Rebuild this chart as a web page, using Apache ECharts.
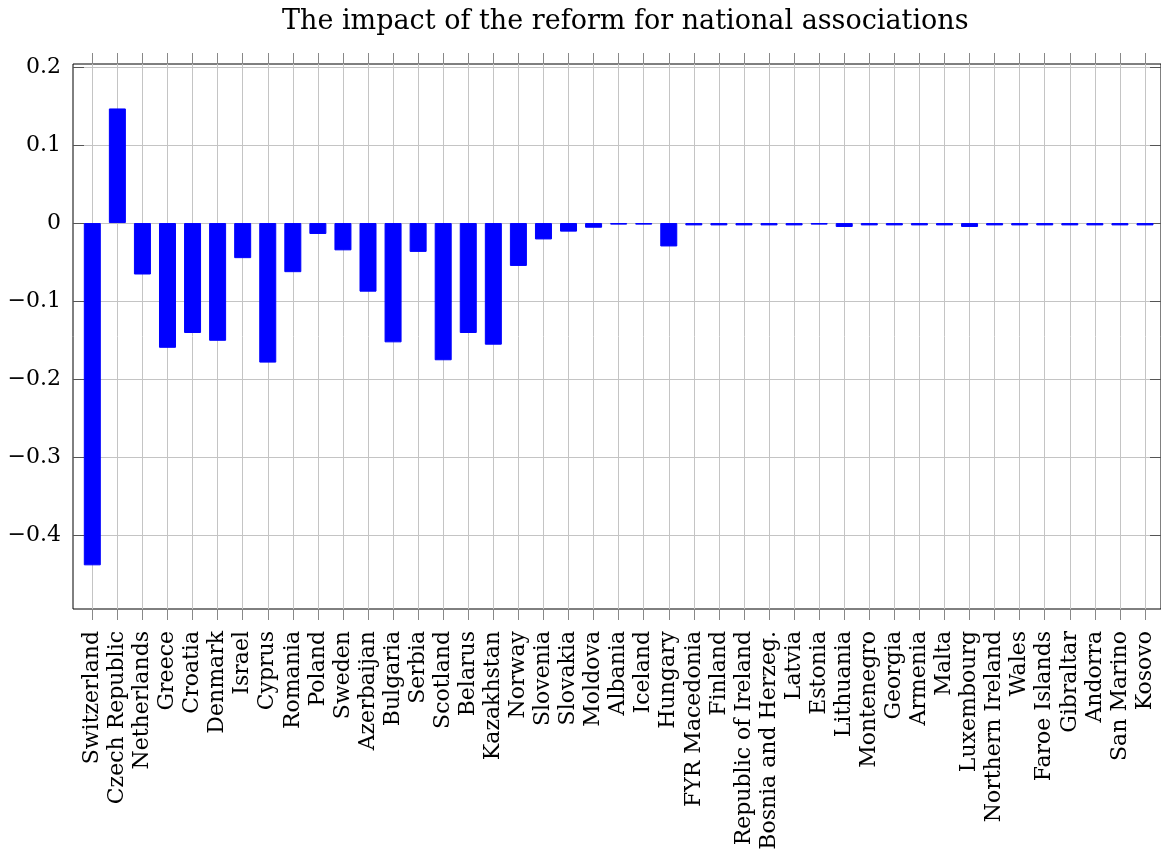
<!DOCTYPE html>
<html>
<head>
<meta charset="utf-8">
<script src="https://cdn.jsdelivr.net/npm/echarts@6/dist/echarts.min.js"></script>
<style>
  html, body { margin: 0; padding: 0; background: #fff; }
  #chart { width: 1161px; height: 862px; }
</style>
</head>
<body>
<div id="chart"></div>
<script>
var countries = ['Switzerland', 'Czech Republic', 'Netherlands', 'Greece', 'Croatia', 'Denmark', 'Israel',
  'Cyprus', 'Romania', 'Poland', 'Sweden', 'Azerbaijan', 'Bulgaria', 'Serbia', 'Scotland', 'Belarus',
  'Kazakhstan', 'Norway', 'Slovenia', 'Slovakia', 'Moldova', 'Albania', 'Iceland', 'Hungary',
  'FYR Macedonia', 'Finland', 'Republic of Ireland', 'Bosnia and Herzeg.', 'Latvia', 'Estonia',
  'Lithuania', 'Montenegro', 'Georgia', 'Armenia', 'Malta', 'Luxembourg', 'Northern Ireland', 'Wales',
  'Faroe Islands', 'Gibraltar', 'Andorra', 'San Marino', 'Kosovo']
var impact = [-0.439, 0.147, -0.066, -0.160, -0.141, -0.151, -0.045,
  -0.179, -0.063, -0.014, -0.035, -0.088, -0.153, -0.037, -0.176, -0.141,
  -0.156, -0.055, -0.021, -0.011, -0.006, -0.002, -0.002, -0.030,
  -0.003, -0.003, -0.003, -0.003, -0.003, -0.002,
  -0.005, -0.003, -0.003, -0.003, -0.003, -0.005, -0.003, -0.003,
  -0.003, -0.003, -0.003, -0.003, -0.003]
var yTicks = [-0.4, -0.3, -0.2, -0.1, 0, 0.1, 0.2]
var yMin = -0.495, yMax = 0.204

var font = 'DejaVu Serif'
var myChart = echarts.init(document.getElementById('chart'))

function fmt(v) {
  if (v === 0) return '0'
  return v < 0 ? '\u2212' + Math.abs(v).toFixed(1) : v.toFixed(1)
}

var tickStyle = { show: true, interval: 0, length: 11, lineStyle: { color: '#888' } }

myChart.setOption({
  animation: false,
  title: {
    text: 'The impact of the reform for national associations',
    left: 277,
    top: 3,
    textStyle: { fontFamily: font, fontWeight: 'normal', fontSize: 27, color: '#000' }
  },
  grid: [
    // frame + y axis
    { left: 73, right: -7, top: 64, bottom: 253, show: true, borderColor: '#000', borderWidth: 1, backgroundColor: 'transparent' },
    // bars: first and last category centres
    { left: 92.3, right: 16, top: 64, bottom: 253 }
  ],
  xAxis: [
    { type: 'value', gridIndex: 0, show: false, min: 0, max: 1 },
    {
      type: 'category', gridIndex: 1, position: 'bottom', data: countries, boundaryGap: false,
      axisLine: { show: false, onZero: false },
      axisTick: tickStyle,
      axisLabel: { interval: 0, rotate: 90, margin: 22, fontFamily: font, fontSize: 22, color: '#000', hideOverlap: false },
      splitLine: { show: true, interval: 0, lineStyle: { color: '#c4c4c4', width: 1 } }
    },
    {
      type: 'category', gridIndex: 1, position: 'top', data: countries, boundaryGap: false,
      axisLine: { show: false, onZero: false },
      axisTick: tickStyle,
      axisLabel: { show: false },
      splitLine: { show: false }
    }
  ],
  yAxis: [
    {
      type: 'value', gridIndex: 0, position: 'left', min: yMin, max: yMax,
      axisLine: { show: false },
      axisTick: { show: true, inside: true, length: 11, customValues: yTicks, lineStyle: { color: '#555' } },
      axisLabel: { customValues: yTicks, formatter: fmt, margin: 12, fontFamily: font, fontSize: 22, color: '#000' },
      splitLine: { show: true, lineStyle: { color: '#c4c4c4', width: 1 } }
    },
    {
      type: 'value', gridIndex: 0, position: 'right', min: yMin, max: yMax,
      axisLine: { show: false },
      axisTick: { show: true, inside: true, length: 11, customValues: yTicks, lineStyle: { color: '#555' } },
      axisLabel: { show: false },
      splitLine: { show: false }
    },
    { type: 'value', gridIndex: 1, min: yMin, max: yMax, show: false }
  ],
  series: [
    {
      name: 'impact',
      type: 'bar',
      xAxisIndex: 1,
      yAxisIndex: 2,
      barWidth: 17,
      clip: false,
      data: impact,
      itemStyle: { color: '#0000ff', borderColor: '#0000ff', borderWidth: 1 }
    }
  ]
})
</script>
</body>
</html>
